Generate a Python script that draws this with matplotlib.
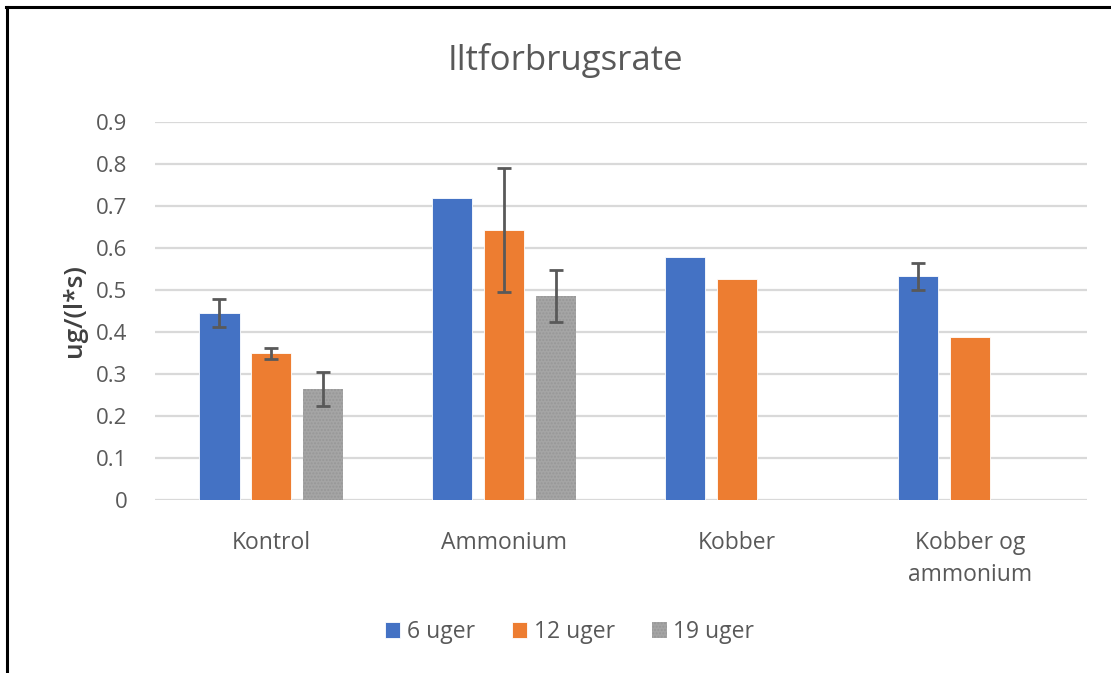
import matplotlib.pyplot as plt
import numpy as np
from matplotlib.lines import Line2D

categories = ["Kontrol", "Ammonium", "Kobber", "Kobber og\nammonium"]
series_names = ["6 uger", "12 uger", "19 uger"]
uger_6 = [0.445, 0.720, 0.579, 0.533]
uger_12 = [0.349, 0.643, 0.526, 0.387]
uger_19 = [0.265, 0.486, np.nan, np.nan]
err_6 = [0.034, np.nan, np.nan, 0.032]
err_12 = [0.014, 0.147, np.nan, np.nan]
err_19 = [0.041, 0.062, np.nan, np.nan]

colors = ["#4472C4", "#ED7D31", "#A5A5A5"]
text_color = "#595959"
plt.rcParams['font.family'] = ['Open Sans', 'DejaVu Sans']

fig = plt.figure(figsize=(11.11, 6.73), dpi=100)
ax = fig.add_axes([0.1395, 0.257, 0.8385, 0.5617])

x = np.arange(len(categories))
width = 0.172
step = 0.223
values = [uger_6, uger_12, uger_19]
errors = [err_6, err_12, err_19]

for i, (vals, errs) in enumerate(zip(values, errors)):
    pos = x + (i - 1) * step
    vals = np.array(vals, dtype=float)
    errs = np.array(errs, dtype=float)
    ok = ~np.isnan(vals)
    if i == 2:
        ax.bar(pos[ok], vals[ok], width, color=colors[i], label=series_names[i],
               hatch='.....', edgecolor='#979797', linewidth=0, zorder=2)
    else:
        ax.bar(pos[ok], vals[ok], width, color=colors[i], label=series_names[i],
               edgecolor='white', linewidth=0.6, zorder=2)
    has_err = ~np.isnan(errs)
    ax.errorbar(pos[has_err], vals[has_err], yerr=errs[has_err], fmt='none',
                ecolor='#595959', elinewidth=2, capsize=5, capthick=2, zorder=3)

ax.set_xlim(-0.5, 3.5)
ax.set_ylim(0, 0.9)
ax.set_yticks(np.arange(0, 0.91, 0.1))
ax.set_yticklabels(["0"] + [f"{v:.1f}" for v in np.arange(0.1, 0.91, 0.1)])
ax.set_xticks(x)
ax.set_xticklabels(categories, linespacing=1.45)
ax.yaxis.grid(True, color='#D9D9D9', linewidth=1.6, zorder=0)
ax.set_axisbelow(True)
for s in ax.spines.values():
    s.set_visible(False)
ax.tick_params(axis='y', length=0, labelsize=16, colors=text_color, pad=20)
ax.tick_params(axis='x', length=0, labelsize=16.5, colors=text_color, pad=22)

ax.set_ylabel("ug/(l*s)", fontsize=19, color='#404040', fontweight='semibold', labelpad=6)
fig.text(0.509, 0.91, "Iltforbrugsrate", fontsize=25, color=text_color,
         ha='center', va='center')

fig.legend(loc='center', bbox_to_anchor=(0.513, 0.061), ncol=3, frameon=False,
           fontsize=16.5, labelcolor=text_color, handlelength=0.65, handleheight=0.65,
           handletextpad=0.3, columnspacing=1.6)

# frame around the picture (left and top only, rest is cut off)
fig.add_artist(Line2D([0.0063, 0.0063], [0, 0.9896], transform=fig.transFigure,
                      color='black', linewidth=2.2))
fig.add_artist(Line2D([0.0054, 1.0], [0.9896, 0.9896], transform=fig.transFigure,
                      color='black', linewidth=2.2))

fig.savefig("out.png", dpi=100)
